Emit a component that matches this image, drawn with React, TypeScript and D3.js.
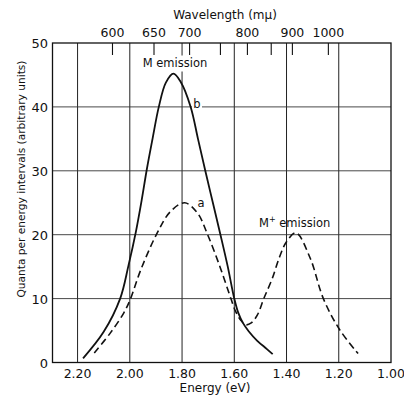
import React from 'react';
import * as d3 from 'd3';

const energyTicks = [2.2, 2.0, 1.8, 1.6, 1.4, 1.2, 1.0];
const energyLabels = ['2.20', '2.00', '1.80', '1.60', '1.40', '1.20', '1.00'];
const gridEnergies = [2.2, 2.0, 1.8, 1.6, 1.4, 1.2];
const valueTicks = [0, 10, 20, 30, 40, 50];
const gridValues = [10, 20, 30, 40];
const wavelengthTicks = [600, 650, 700, 750, 800, 850, 900, 1000];
const wavelengthLabels = [600, 650, 700, 800, 900, 1000];

// curve b (solid, M emission): [energy eV, quanta]
const curveB: [number, number][] = [
  [2.179, 0.65], [2.10, 4.8], [2.037, 10], [2.005, 15.2],
  [1.977, 20.4], [1.955, 25.3], [1.935, 30.2], [1.913, 35], [1.889, 40], [1.862, 43.8],
  [1.833, 45.2], [1.805, 43.9], [1.767, 40], [1.739, 35], [1.711, 30], [1.682, 25],
  [1.653, 20], [1.625, 15], [1.60, 10], [1.585, 7.8], [1.567, 6.2], [1.545, 4.9],
  [1.512, 3.4], [1.475, 2.1], [1.453, 1.3],
];

// curve a (dashed, M and M+ emission)
const curveA: [number, number][] = [
  [2.136, 1.5], [2.075, 4.6], [2.024, 7.7], [2.0, 9.7], [1.958, 14.5], [1.896, 20.2],
  [1.845, 23.6], [1.79, 25], [1.741, 23.4], [1.702, 20], [1.655, 15], [1.613, 10],
  [1.595, 8.0], [1.575, 6.6], [1.555, 5.9], [1.535, 6.2], [1.512, 7.4], [1.487, 10],
  [1.455, 13.1], [1.426, 16.6], [1.40, 18.9], [1.364, 20.3], [1.31, 16.4], [1.259, 10],
  [1.196, 5.1], [1.126, 1.4],
];

const W = 404;
const H = 397;
const FONT = 'DejaVu Sans';

export default function App() {
  const x = d3.scaleLinear().domain([2.296, 1.0]).range([52.5, 391]);
  const y = d3.scaleLinear().domain([0, 50]).range([362.5, 43]);
  const [x0, x1] = x.range();
  const [y0, y1] = y.range();
  const line = d3
    .line<[number, number]>()
    .x((d) => x(d[0]))
    .y((d) => y(d[1]))
    .curve(d3.curveCatmullRom.alpha(0.5));
  const ev = (nm: number) => 1239.8 / nm;

  return (
    <svg
      width={W}
      height={H}
      style={{ position: 'absolute', left: 0, top: 0, background: '#fff' }}
      fontFamily={FONT}
    >
      <rect x={0} y={0} width={W} height={H} fill="#fff" />
      {/* grid */}
      {gridEnergies.map((e) => (
        <line key={'gx' + e} x1={x(e)} x2={x(e)} y1={y1} y2={y0} stroke="#222" strokeWidth={1} />
      ))}
      {gridValues.map((v) => (
        <line key={'gy' + v} x1={x0} x2={x1} y1={y(v)} y2={y(v)} stroke="#333" strokeWidth={0.9} />
      ))}
      {/* label backgrounds */}
      <rect x={143} y={55.5} width={64} height={16} fill="#fff" />
      <rect x={192} y={98} width={10} height={12} fill="#fff" />
      {/* top wavelength ticks */}
      {wavelengthTicks.map((w) => (
        <line key={'wt' + w} x1={x(ev(w))} x2={x(ev(w))} y1={y1} y2={y1 + 12} stroke="#111" strokeWidth={1.1} />
      ))}
      {/* curves */}
      <path d={line(curveB) ?? ''} fill="none" stroke="#111" strokeWidth={1.8} />
      <path d={line(curveA) ?? ''} fill="none" stroke="#111" strokeWidth={1.6} strokeDasharray="7,4" />
      {/* frame */}
      <rect x={x0} y={y1} width={x1 - x0} height={y0 - y1} fill="none" stroke="#111" strokeWidth={1.3} />
      {/* y axis labels */}
      {valueTicks.map((v) => (
        <text key={'yl' + v} x={48} y={y(v) + 5} textAnchor="end" fontSize={13} fill="#111">
          {v}
        </text>
      ))}
      {/* x axis labels */}
      {energyTicks.map((e, i) => (
        <text key={'xl' + e} x={x(e)} y={378} textAnchor="middle" fontSize={12.5} fill="#111">
          {energyLabels[i]}
        </text>
      ))}
      <text x={215} y={392} textAnchor="middle" fontSize={12} fill="#111">
        Energy (eV)
      </text>
      {/* top labels */}
      {wavelengthLabels.map((w) => (
        <text key={'wl' + w} x={x(ev(w))} y={36.5} textAnchor="middle" fontSize={12.5} fill="#111">
          {w}
        </text>
      ))}
      <text x={225} y={19} textAnchor="middle" fontSize={12} fill="#111">
        Wavelength (mμ)
      </text>
      {/* y title */}
      <text
        transform="translate(25,179) rotate(-90)"
        textAnchor="middle"
        fontSize={11}
        fill="#111"
        textLength={237}
        lengthAdjust="spacingAndGlyphs"
      >
        Quanta per energy intervals (arbitrary units)
      </text>
      {/* annotations */}
      <text x={175} y={67} textAnchor="middle" fontSize={11.5} fill="#111">
        M emission
      </text>
      <text x={197} y={107.5} textAnchor="middle" fontSize={11.5} fill="#111">
        b
      </text>
      <text x={201} y={207} textAnchor="middle" fontSize={11.5} fill="#111">
        a
      </text>
      <text x={259} y={227} fontSize={11.5} fill="#111">
        M<tspan dy={-5} fontSize={8}>+</tspan>
        <tspan dy={5}> emission</tspan>
      </text>
    </svg>
  );
}
